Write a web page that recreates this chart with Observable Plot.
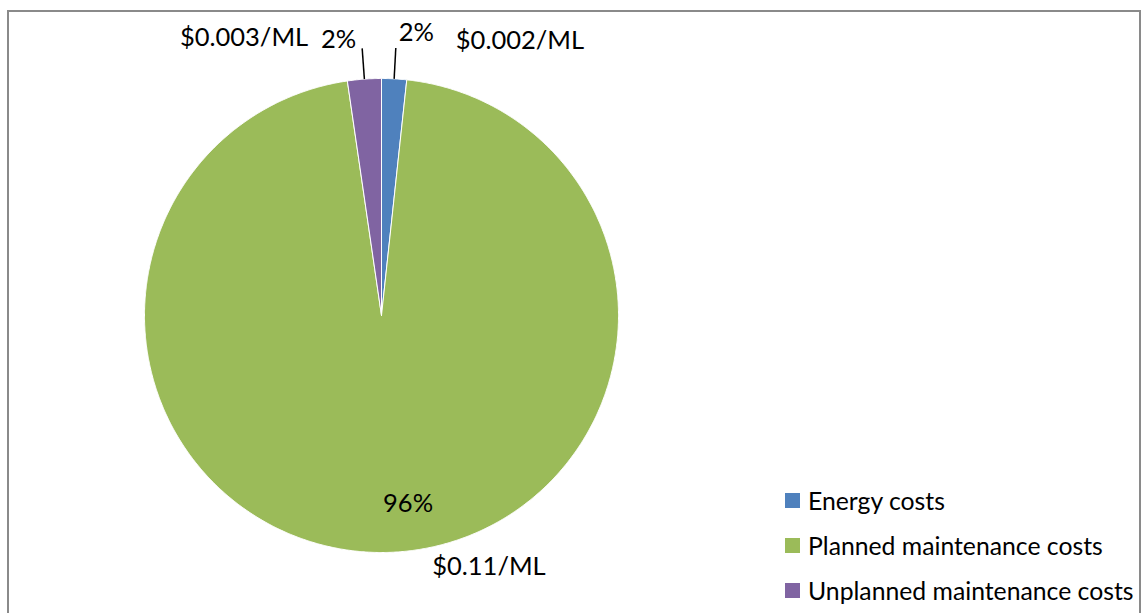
<!DOCTYPE html>
<html>
<head>
<meta charset="utf-8">
<script src="https://cdn.jsdelivr.net/npm/d3@7"></script>
<script src="https://cdn.jsdelivr.net/npm/@observablehq/plot@0.6"></script>
<style>
  html, body { margin: 0; padding: 0; background: #fff; }
  #wrap { position: relative; width: 1144px; height: 613px; overflow: hidden; font-family: Lato, "Open Sans", sans-serif; }
  #border { position: absolute; left: 7px; top: 10px; width: 1134px; height: 700px; border: 2px solid #8a8a8a; box-sizing: border-box; pointer-events: none; }
  #chart { position: absolute; left: 0; top: 0; }
  #legend { position: absolute; left: 785px; top: 485px; }
  .row { position: absolute; left: 0; height: 30px; width: 360px; display: flex; align-items: center; white-space: nowrap; font-size: 24.75px; color: #000; }
  .sw { width: 15px; height: 15px; margin-right: 8px; flex: none; }
</style>
</head>
<body>
<div id="wrap">
  <div id="chart"></div>
  <div id="legend"></div>
  <div id="border"></div>
</div>
<script>
// ---- data ----
const categories = ["Energy costs", "Planned maintenance costs", "Unplanned maintenance costs"];
const shares = [1.7, 96.0, 2.3];              // percent of total (slice sizes)
const pctLabels = ["2%", "96%", "2%"];
const costLabels = ["$0.002/ML", "$0.11/ML", "$0.003/ML"];
const colors = ["#4F81BD", "#9BBB59", "#8064A2"];

// ---- geometry from data (clockwise from 12 o'clock) ----
const pie = d3.pie().sort(null).value(d => d.share).startAngle(0).endAngle(2 * Math.PI);
const rows = categories.map((name, i) => ({name, share: shares[i], pct: pctLabels[i], cost: costLabels[i]}));
const arcs = pie(rows);

const pts = [];
for (const a of arcs) {
  const n = Math.max(2, Math.ceil((a.endAngle - a.startAngle) / 0.005));
  pts.push({name: a.data.name, x: 0, y: 0});
  for (let k = 0; k <= n; k++) {
    const t = a.startAngle + (a.endAngle - a.startAngle) * k / n;
    pts.push({name: a.data.name, x: Math.sin(t), y: Math.cos(t)});
  }
  pts.push({name: a.data.name, x: 0, y: 0});
}

const polar = (ang, r) => ({x: Math.sin(ang) * r, y: Math.cos(ang) * r});
const mid = a => (a.startAngle + a.endAngle) / 2;

const small = arcs.filter(a => a.data.share < 5);
const large = arcs.filter(a => a.data.share >= 5);

const leaders = small.map(a => {
  const p1 = polar(mid(a), 1.0), p2 = polar(mid(a), 1.13);
  return {x1: p1.x, y1: p1.y, x2: p2.x, y2: p2.y, right: Math.sin(mid(a)) > 0, d: a.data};
});

const FS = 25.5;
const chart = Plot.plot({
  width: 1144,
  height: 613,
  marginLeft: 144,
  marginRight: 526,
  marginTop: 78,
  marginBottom: 61,
  x: {domain: [-1, 1], axis: null},
  y: {domain: [-1, 1], axis: null},
  color: {domain: categories, range: colors},
  style: {fontFamily: "Lato, 'Open Sans', sans-serif", background: "transparent"},
  marks: [
    Plot.line(pts, {x: "x", y: "y", z: "name", fill: "name", stroke: "white", strokeWidth: 1, strokeLinejoin: "round", curve: "linear"}),
    Plot.link(leaders, {x1: "x1", y1: "y1", x2: "x2", y2: "y2", stroke: "black", strokeWidth: 1.5}),
    // percent labels of small slices at leader ends
    Plot.text(leaders.filter(l => l.right), {x: "x2", y: "y2", text: l => l.d.pct, textAnchor: "start", lineAnchor: "bottom", dx: 3, dy: -7, fontSize: FS, fill: "black"}),
    Plot.text(leaders.filter(l => !l.right), {x: "x2", y: "y2", text: l => l.d.pct, textAnchor: "end", lineAnchor: "bottom", dx: -6, dy: 0, fontSize: FS, fill: "black"}),
    // cost labels of small slices
    Plot.text(leaders.filter(l => l.right), {x: "x2", y: "y2", text: l => l.d.cost, textAnchor: "start", lineAnchor: "bottom", dx: 60, dy: 1, fontSize: FS, fill: "black"}),
    Plot.text(leaders.filter(l => !l.right), {x: "x2", y: "y2", text: l => l.d.cost, textAnchor: "end", lineAnchor: "bottom", dx: -54, dy: -2, fontSize: FS, fill: "black"}),
    // large slice: inside percent and outside cost
    Plot.text(large, {x: a => polar(mid(a), 0.8).x, y: a => polar(mid(a), 0.8).y, text: a => a.data.pct, textAnchor: "middle", lineAnchor: "bottom", dx: 23, dy: 7, fontSize: FS, fill: "black"}),
    Plot.text(large, {x: a => polar(mid(a), 1.0).x, y: a => polar(mid(a), 1.0).y, text: a => a.data.cost, textAnchor: "middle", lineAnchor: "bottom", dx: 103, dy: 23, fontSize: FS, fill: "black"})
  ]
});
document.getElementById("chart").appendChild(chart);

// ---- legend ----
const legend = document.getElementById("legend");
categories.forEach((c, i) => {
  const row = document.createElement("div");
  row.className = "row";
  row.style.top = (i * 45) + "px";
  const sw = document.createElement("span");
  sw.className = "sw";
  sw.style.background = colors[i];
  const tx = document.createElement("span");
  tx.textContent = c;
  row.appendChild(sw);
  row.appendChild(tx);
  legend.appendChild(row);
});
</script>
</body>
</html>
